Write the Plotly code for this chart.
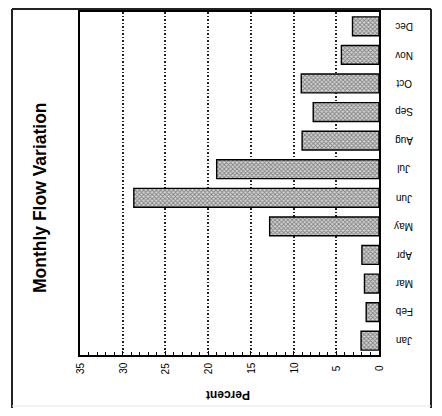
import plotly.graph_objects as go

months = ["Jan", "Feb", "Mar", "Apr", "May", "Jun", "Jul", "Aug", "Sep", "Oct", "Nov", "Dec"]
percent = [2.1, 1.5, 1.7, 2.0, 12.8, 28.7, 19.0, 9.0, 7.7, 9.1, 4.4, 3.1]
x_ticks = [0, 5, 10, 15, 20, 25, 30, 35]

title_text = "Monthly Flow Variation"
x_title = "Percent"

OFF = 8  # page body margin
W, H = 426, 400
ML, MR, MT, MB = 72, 55, 4, 53
pw = W - ML - MR
ph = H - MT - MB

def px(X):
    return (X - OFF - ML) / pw

def py(Y):
    return (H - MB - (Y - OFF)) / ph

fig = go.Figure()
fig.add_trace(go.Bar(
    y=months, x=percent, orientation="h",
    marker=dict(
        color="#bbbbbb",
        line=dict(color="black", width=1.4),
        pattern=dict(shape="x", fgcolor="#333333", bgcolor="#d6d6d6", size=3, solidity=0.55),
    ),
    width=0.66,
))

annotations = [
    dict(text="<b>" + title_text + "</b>", xref="paper", yref="paper",
         x=px(40), y=py(198), textangle=-90, showarrow=False,
         font=dict(size=17.5), xanchor="center", yanchor="middle"),
    dict(text="<b>" + x_title + "</b>", xref="paper", yref="paper",
         x=px(228), y=py(395), textangle=180, showarrow=False,
         font=dict(size=12), xanchor="center", yanchor="middle"),
]
for m in months:
    annotations.append(dict(text=m, xref="paper", yref="y", x=px(404), y=m,
                            textangle=180, showarrow=False, font=dict(size=10),
                            xanchor="center", yanchor="middle"))
for v in x_ticks:
    annotations.append(dict(text=str(v), xref="x", yref="paper", x=v, y=py(368),
                            textangle=-90, showarrow=False, font=dict(size=10),
                            xanchor="center", yanchor="middle"))

fig.update_layout(
    width=W, height=H,
    margin=dict(l=ML, r=MR, t=MT, b=MB, autoexpand=False),
    paper_bgcolor="white", plot_bgcolor="white",
    showlegend=False,
    font=dict(family="Liberation Sans, Arial", color="black"),
    xaxis=dict(
        range=[35, 0], tickvals=x_ticks, showticklabels=False, automargin=False,
        showgrid=True, gridcolor="#222222", griddash="1.5px,2px", gridwidth=1.5,
        showline=True, mirror=True, linecolor="black", linewidth=1.5,
        ticks="inside", ticklen=4, tickcolor="black",
        minor=dict(dtick=1, ticks="inside", ticklen=3, tickcolor="black", showgrid=False),
        zeroline=False,
    ),
    yaxis=dict(
        categoryorder="array", categoryarray=months, automargin=False,
        side="right", showticklabels=False,
        showline=True, mirror=True, linecolor="black", linewidth=1.5,
        showgrid=False, ticks="", range=[-0.5, 11.5],
    ),
    annotations=annotations,
    shapes=[
        dict(type="line", xref="paper", yref="paper", x0=px(12), x1=px(12), y0=py(9), y1=py(416), line=dict(color="#222", width=2)),
        dict(type="line", xref="paper", yref="paper", x0=px(12), x1=px(431), y0=py(9), y1=py(9), line=dict(color="#222", width=2)),
        dict(type="line", xref="paper", yref="paper", x0=px(431), x1=px(431), y0=py(9), y1=py(416), line=dict(color="#222", width=2)),
        dict(type="line", xref="paper", yref="paper", x0=px(12), x1=px(431), y0=py(406), y1=py(406), line=dict(color="#e6e6e6", width=1)),
    ],
)

fig.write_html("out.html")
